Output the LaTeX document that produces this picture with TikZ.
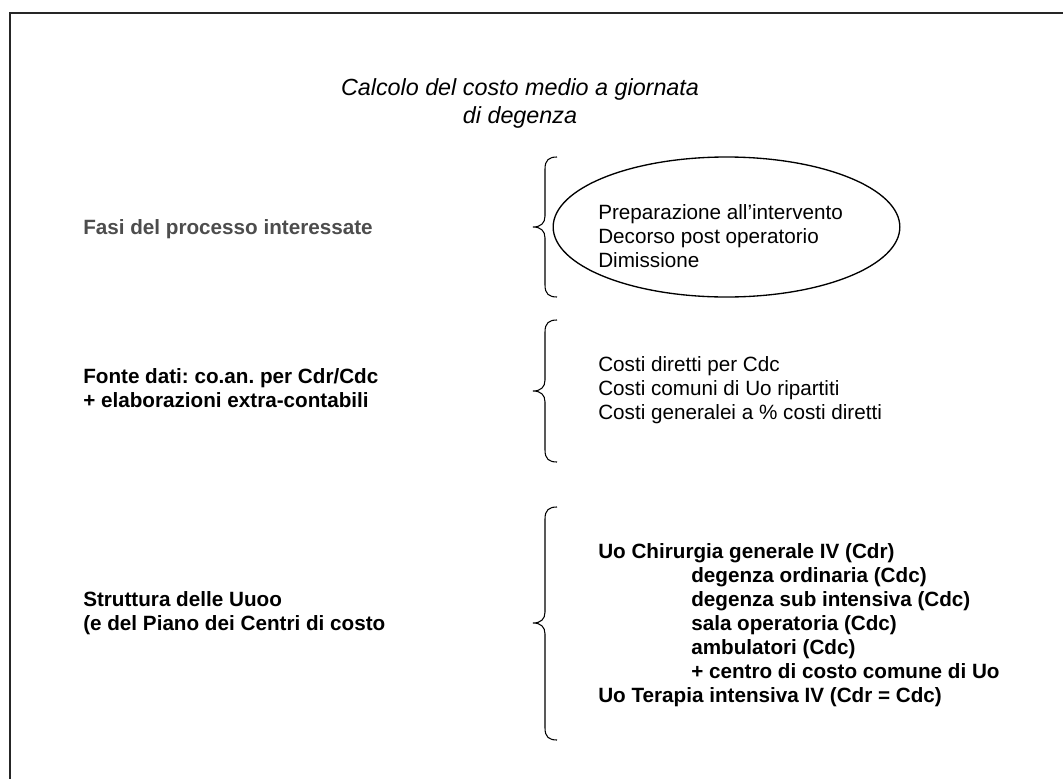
\documentclass[tikz,border=0pt]{standalone}
\usepackage{fontspec}
\setmainfont{Liberation Sans}
\usetikzlibrary{shapes.geometric}
\definecolor{labelgray}{HTML}{4D4D4D}
\frenchspacing
\begin{document}
\begin{tikzpicture}[x=0.75pt,y=-0.75pt,
  body/.style={anchor=base west, inner sep=0pt, font=\fontsize{15.5}{18}\selectfont},
  bodyb/.style={anchor=base west, inner sep=0pt, font=\fontsize{15.5}{18}\selectfont\bfseries},
  ttl/.style={anchor=base, inner sep=0pt, font=\fontsize{17.5}{21}\selectfont\itshape},
  bracepath/.style={draw=black, line width=0.8pt},
  framepath/.style={draw=black!85, line width=1pt}]
\useasboundingbox (0,0) rectangle (1063,778);
\fill[white] (0,0) rectangle (1063,778);
\draw[framepath] (10,800) -- (10,13) -- (1080,13);

% title
\node[ttl] (t1) at (520,95) {Calcolo del costo medio a giornata};
\node[ttl] (t2) at (520,123) {di degenza};

% left labels
\node[bodyb, text=labelgray] (l1) at (83,234) {Fasi del processo interessate};
\node[bodyb] (l2a) at (83,383) {Fonte dati: co.an. per Cdr/Cdc};
\node[bodyb] (l2b) at (83,407) {+ elaborazioni extra-contabili};
\node[bodyb] (l3a) at (83,606) {Struttura delle Uuoo};
\node[bodyb] (l3b) at (83,630) {(e del Piano dei Centri di costo};

% braces
\draw[bracepath] (557,157) .. controls (549,157) and (545,160) .. (545,169)
  -- (545,216) .. controls (545,223) and (541,227) .. (533,227)
  .. controls (541,227) and (545,231) .. (545,238)
  -- (545,285) .. controls (545,294) and (549,297) .. (557,297);
\draw[bracepath] (557,320) .. controls (549,320) and (545,323) .. (545,332)
  -- (545,380) .. controls (545,387) and (541,391) .. (533,391)
  .. controls (541,391) and (545,395) .. (545,402)
  -- (545,450) .. controls (545,459) and (549,462) .. (557,462);
\draw[bracepath] (557,507) .. controls (549,507) and (545,510) .. (545,519)
  -- (545,612) .. controls (545,619) and (541,623) .. (533,623)
  .. controls (541,623) and (545,627) .. (545,634)
  -- (545,728) .. controls (545,737) and (549,740) .. (557,740);

% ellipse group
\node[draw=black, line width=1pt, ellipse, inner sep=0pt,
      minimum width=260pt, minimum height=105pt] (ell) at (726.5,227) {};
\node[body] (e1) at (598,219) {Preparazione all’intervento};
\node[body] (e2) at (598,243) {Decorso post operatorio};
\node[body] (e3) at (598,267) {Dimissione};

% cost sources
\node[body] (c1) at (598,371) {Costi diretti per Cdc};
\node[body] (c2) at (598,395) {Costi comuni di Uo ripartiti};
\node[body] (c3) at (598,419) {Costi generalei a \% costi diretti};

% structure
\node[bodyb] (s1) at (598,558) {Uo Chirurgia generale IV (Cdr)};
\node[bodyb] (s2) at (691,582) {degenza ordinaria (Cdc)};
\node[bodyb] (s3) at (691,606) {degenza sub intensiva (Cdc)};
\node[bodyb] (s4) at (691,630) {sala operatoria (Cdc)};
\node[bodyb] (s5) at (691,654) {ambulatori (Cdc)};
\node[bodyb] (s6) at (691,678) {+ centro di costo comune di Uo};
\node[bodyb] (s7) at (598,702) {Uo Terapia intensiva IV (Cdr = Cdc)};
\end{tikzpicture}
\end{document}
